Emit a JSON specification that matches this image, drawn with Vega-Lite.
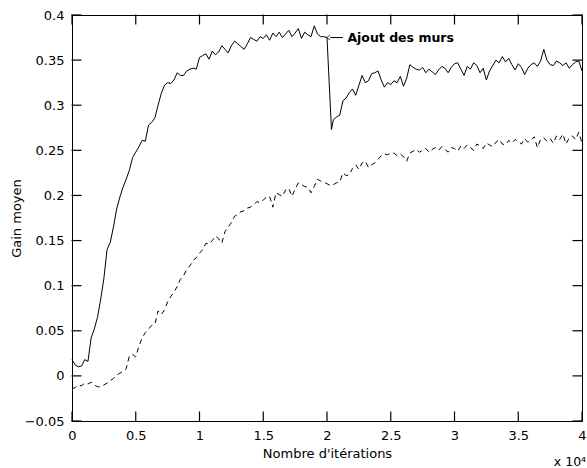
{
  "$schema": "https://vega.github.io/schema/vega-lite/v6.json",
  "width": 510,
  "height": 406,
  "autosize": {"type": "none"},
  "padding": {"left": 72, "top": 15, "right": 5, "bottom": 47},
  "background": "white",
  "title": {"text": "x 10⁴", "orient": "bottom", "anchor": "end", "font": "DejaVu Sans", "fontSize": 12.5, "fontWeight": "normal", "color": "black", "offset": -4, "dx": 0},
  "config": {
    "view": {"stroke": "black", "strokeWidth": 1},
    "axis": {"labelFont": "DejaVu Sans", "labelFontSize": 13, "labelColor": "black", "titleFont": "DejaVu Sans", "titleFontSize": 13, "titleFontWeight": "normal", "titleColor": "black", "ticks": false, "grid": false, "domain": false, "labelFlush": false, "labelOverlap": false}
  },
  "datasets": {
    "a": [
      {"it":0,"g":0.018},{"it":250,"g":0.012},{"it":500,"g":0.010},{"it":750,"g":0.011},{"it":1000,"g":0.018},{"it":1250,"g":0.016},{"it":1500,"g":0.042},{"it":1750,"g":0.052},{"it":2000,"g":0.065},{"it":2250,"g":0.085},
      {"it":2500,"g":0.108},{"it":2750,"g":0.140},{"it":3000,"g":0.148},{"it":3250,"g":0.165},{"it":3500,"g":0.185},{"it":3750,"g":0.198},{"it":4000,"g":0.209},{"it":4250,"g":0.218},{"it":4500,"g":0.228},{"it":4750,"g":0.242},
      {"it":5000,"g":0.248},{"it":5250,"g":0.254},{"it":5500,"g":0.261},{"it":5750,"g":0.260},{"it":6000,"g":0.278},{"it":6250,"g":0.281},{"it":6500,"g":0.286},{"it":6750,"g":0.300},{"it":7000,"g":0.313},{"it":7250,"g":0.322},
      {"it":7500,"g":0.325},{"it":7750,"g":0.324},{"it":8000,"g":0.328},{"it":8250,"g":0.336},{"it":8500,"g":0.333},{"it":8750,"g":0.333},{"it":9000,"g":0.338},{"it":9250,"g":0.340},{"it":9500,"g":0.341},{"it":9750,"g":0.340},
      {"it":10000,"g":0.353},{"it":10250,"g":0.355},{"it":10500,"g":0.357},{"it":10750,"g":0.351},{"it":11000,"g":0.360},{"it":11250,"g":0.356},{"it":11500,"g":0.359},{"it":11750,"g":0.366},{"it":12000,"g":0.362},{"it":12250,"g":0.358},
      {"it":12500,"g":0.366},{"it":12750,"g":0.371},{"it":13000,"g":0.368},{"it":13250,"g":0.365},{"it":13500,"g":0.362},{"it":13750,"g":0.368},{"it":14000,"g":0.375},{"it":14250,"g":0.373},{"it":14500,"g":0.371},{"it":14750,"g":0.376},
      {"it":15000,"g":0.374},{"it":15250,"g":0.378},{"it":15500,"g":0.372},{"it":15750,"g":0.380},{"it":16000,"g":0.376},{"it":16250,"g":0.381},{"it":16500,"g":0.375},{"it":16750,"g":0.379},{"it":17000,"g":0.383},{"it":17250,"g":0.376},
      {"it":17500,"g":0.380},{"it":17750,"g":0.385},{"it":18000,"g":0.374},{"it":18250,"g":0.381},{"it":18500,"g":0.378},{"it":18750,"g":0.376},{"it":19000,"g":0.388},{"it":19250,"g":0.379},{"it":19500,"g":0.376},{"it":19750,"g":0.376},
      {"it":20000,"g":0.375},{"it":20350,"g":0.273},{"it":20500,"g":0.284},{"it":20750,"g":0.287},{"it":21000,"g":0.289},{"it":21250,"g":0.305},{"it":21500,"g":0.308},{"it":21750,"g":0.314},{"it":22000,"g":0.318},{"it":22250,"g":0.311},
      {"it":22500,"g":0.322},{"it":22750,"g":0.333},{"it":23000,"g":0.325},{"it":23250,"g":0.327},{"it":23500,"g":0.335},{"it":23750,"g":0.336},{"it":24000,"g":0.338},{"it":24250,"g":0.328},{"it":24500,"g":0.320},{"it":24750,"g":0.325},
      {"it":25000,"g":0.323},{"it":25250,"g":0.327},{"it":25500,"g":0.325},{"it":25750,"g":0.332},{"it":26000,"g":0.321},{"it":26250,"g":0.330},{"it":26500,"g":0.345},{"it":26750,"g":0.342},{"it":27000,"g":0.340},{"it":27250,"g":0.339},
      {"it":27500,"g":0.342},{"it":27750,"g":0.336},{"it":28000,"g":0.340},{"it":28250,"g":0.337},{"it":28500,"g":0.334},{"it":28750,"g":0.339},{"it":29000,"g":0.343},{"it":29250,"g":0.341},{"it":29500,"g":0.336},{"it":29750,"g":0.342},
      {"it":30000,"g":0.346},{"it":30250,"g":0.347},{"it":30500,"g":0.340},{"it":30750,"g":0.333},{"it":31000,"g":0.343},{"it":31250,"g":0.340},{"it":31500,"g":0.347},{"it":31750,"g":0.344},{"it":32000,"g":0.336},{"it":32250,"g":0.341},
      {"it":32500,"g":0.328},{"it":32750,"g":0.338},{"it":33000,"g":0.344},{"it":33250,"g":0.350},{"it":33500,"g":0.347},{"it":33750,"g":0.354},{"it":34000,"g":0.348},{"it":34250,"g":0.352},{"it":34500,"g":0.345},{"it":34750,"g":0.339},
      {"it":35000,"g":0.346},{"it":35250,"g":0.342},{"it":35500,"g":0.334},{"it":35750,"g":0.341},{"it":36000,"g":0.345},{"it":36250,"g":0.347},{"it":36500,"g":0.343},{"it":36750,"g":0.349},{"it":37000,"g":0.362},{"it":37250,"g":0.350},
      {"it":37500,"g":0.345},{"it":37750,"g":0.344},{"it":38000,"g":0.349},{"it":38250,"g":0.347},{"it":38500,"g":0.344},{"it":38750,"g":0.347},{"it":39000,"g":0.341},{"it":39250,"g":0.345},{"it":39500,"g":0.348},{"it":39750,"g":0.349},
      {"it":40000,"g":0.338}
    ],
    "b": [
      {"it":0,"g":-0.014},{"it":250,"g":-0.013},{"it":500,"g":-0.010},{"it":750,"g":-0.011},{"it":1000,"g":-0.008},{"it":1250,"g":-0.009},{"it":1500,"g":-0.007},{"it":1750,"g":-0.010},{"it":2000,"g":-0.012},{"it":2250,"g":-0.012},
      {"it":2500,"g":-0.010},{"it":2750,"g":-0.008},{"it":3000,"g":-0.005},{"it":3250,"g":-0.003},{"it":3500,"g":0.001},{"it":3750,"g":0.003},{"it":4000,"g":0.005},{"it":4250,"g":0.008},{"it":4500,"g":0.022},{"it":4750,"g":0.024},
      {"it":5000,"g":0.021},{"it":5250,"g":0.033},{"it":5500,"g":0.042},{"it":5750,"g":0.048},{"it":6000,"g":0.052},{"it":6250,"g":0.056},{"it":6500,"g":0.057},{"it":6750,"g":0.072},{"it":7000,"g":0.068},{"it":7250,"g":0.073},
      {"it":7500,"g":0.082},{"it":7750,"g":0.088},{"it":8000,"g":0.093},{"it":8250,"g":0.099},{"it":8500,"g":0.107},{"it":8750,"g":0.111},{"it":9000,"g":0.118},{"it":9250,"g":0.122},{"it":9500,"g":0.128},{"it":9750,"g":0.131},
      {"it":10000,"g":0.136},{"it":10250,"g":0.140},{"it":10500,"g":0.147},{"it":10750,"g":0.146},{"it":11000,"g":0.150},{"it":11250,"g":0.155},{"it":11500,"g":0.152},{"it":11750,"g":0.147},{"it":12000,"g":0.160},{"it":12250,"g":0.165},
      {"it":12500,"g":0.170},{"it":12750,"g":0.177},{"it":13000,"g":0.179},{"it":13250,"g":0.182},{"it":13500,"g":0.183},{"it":13750,"g":0.186},{"it":14000,"g":0.187},{"it":14250,"g":0.190},{"it":14500,"g":0.193},{"it":14750,"g":0.192},
      {"it":15000,"g":0.195},{"it":15250,"g":0.198},{"it":15500,"g":0.199},{"it":15750,"g":0.187},{"it":16000,"g":0.203},{"it":16250,"g":0.201},{"it":16500,"g":0.199},{"it":16750,"g":0.206},{"it":17000,"g":0.208},{"it":17250,"g":0.199},
      {"it":17500,"g":0.207},{"it":17750,"g":0.214},{"it":18000,"g":0.212},{"it":18250,"g":0.210},{"it":18500,"g":0.209},{"it":18750,"g":0.203},{"it":19000,"g":0.210},{"it":19250,"g":0.218},{"it":19500,"g":0.216},{"it":19750,"g":0.215},
      {"it":20000,"g":0.213},{"it":20250,"g":0.211},{"it":20500,"g":0.212},{"it":20750,"g":0.214},{"it":21000,"g":0.215},{"it":21250,"g":0.225},{"it":21500,"g":0.222},{"it":21750,"g":0.223},{"it":22000,"g":0.230},{"it":22250,"g":0.234},
      {"it":22500,"g":0.229},{"it":22750,"g":0.236},{"it":23000,"g":0.238},{"it":23250,"g":0.231},{"it":23500,"g":0.234},{"it":23750,"g":0.236},{"it":24000,"g":0.240},{"it":24250,"g":0.244},{"it":24500,"g":0.246},{"it":24750,"g":0.245},
      {"it":25000,"g":0.247},{"it":25250,"g":0.247},{"it":25500,"g":0.244},{"it":25750,"g":0.246},{"it":26000,"g":0.243},{"it":26250,"g":0.238},{"it":26500,"g":0.247},{"it":26750,"g":0.249},{"it":27000,"g":0.251},{"it":27250,"g":0.248},
      {"it":27500,"g":0.250},{"it":27750,"g":0.252},{"it":28000,"g":0.248},{"it":28250,"g":0.251},{"it":28500,"g":0.253},{"it":28750,"g":0.250},{"it":29000,"g":0.254},{"it":29250,"g":0.251},{"it":29500,"g":0.248},{"it":29750,"g":0.253},
      {"it":30000,"g":0.252},{"it":30250,"g":0.249},{"it":30500,"g":0.255},{"it":30750,"g":0.252},{"it":31000,"g":0.256},{"it":31250,"g":0.253},{"it":31500,"g":0.250},{"it":31750,"g":0.257},{"it":32000,"g":0.255},{"it":32250,"g":0.252},
      {"it":32500,"g":0.258},{"it":32750,"g":0.256},{"it":33000,"g":0.254},{"it":33250,"g":0.259},{"it":33500,"g":0.262},{"it":33750,"g":0.257},{"it":34000,"g":0.256},{"it":34250,"g":0.261},{"it":34500,"g":0.258},{"it":34750,"g":0.262},
      {"it":35000,"g":0.260},{"it":35250,"g":0.257},{"it":35500,"g":0.263},{"it":35750,"g":0.259},{"it":36000,"g":0.261},{"it":36250,"g":0.265},{"it":36500,"g":0.253},{"it":36750,"g":0.262},{"it":37000,"g":0.264},{"it":37250,"g":0.260},
      {"it":37500,"g":0.263},{"it":37750,"g":0.258},{"it":38000,"g":0.266},{"it":38250,"g":0.262},{"it":38500,"g":0.268},{"it":38750,"g":0.257},{"it":39000,"g":0.264},{"it":39250,"g":0.266},{"it":39500,"g":0.262},{"it":39750,"g":0.270},
      {"it":40000,"g":0.258}
    ],
    "xticks": [{"v":0},{"v":5000},{"v":10000},{"v":15000},{"v":20000},{"v":25000},{"v":30000},{"v":35000},{"v":40000}],
    "yticks": [{"v":-0.05},{"v":0},{"v":0.05},{"v":0.1},{"v":0.15},{"v":0.2},{"v":0.25},{"v":0.3},{"v":0.35},{"v":0.4}],
    "note": [{"x1":20250,"x2":21250,"xt":21600,"y":0.375,"label":"Ajout des murs"}]
  },
  "layer": [
    {
      "data": {"name": "a"},
      "mark": {"type": "line", "color": "black", "strokeWidth": 1},
      "encoding": {
        "x": {"field": "it", "type": "quantitative", "scale": {"domain": [0, 40000], "nice": false, "zero": false},
              "axis": {"orient": "bottom", "values": [0,5000,10000,15000,20000,25000,30000,35000,40000], "labelExpr": "datum.value / 10000", "labelPadding": 8, "title": "Nombre d'itérations", "titlePadding": 5}},
        "y": {"field": "g", "type": "quantitative", "scale": {"domain": [-0.05, 0.4], "nice": false, "zero": false},
              "axis": {"orient": "left", "values": [-0.05,0,0.05,0.1,0.15,0.2,0.25,0.3,0.35,0.4], "format": "~g", "labelPadding": 8, "title": "Gain moyen", "titlePadding": 1}}
      }
    },
    {
      "data": {"name": "b"},
      "mark": {"type": "line", "color": "black", "strokeWidth": 1, "strokeDash": [5, 4]},
      "encoding": {
        "x": {"field": "it", "type": "quantitative"},
        "y": {"field": "g", "type": "quantitative"}
      }
    },
    {
      "data": {"name": "xticks"},
      "mark": {"type": "tick", "color": "black", "thickness": 1.2, "size": 10, "orient": "vertical", "opacity": 1},
      "encoding": {
        "x": {"field": "v", "type": "quantitative"},
        "y": {"datum": -0.045}
      }
    },
    {
      "data": {"name": "xticks"},
      "mark": {"type": "tick", "color": "black", "thickness": 1.2, "size": 10, "orient": "vertical", "opacity": 1},
      "encoding": {
        "x": {"field": "v", "type": "quantitative"},
        "y": {"datum": 0.395}
      }
    },
    {
      "data": {"name": "yticks"},
      "mark": {"type": "tick", "color": "black", "thickness": 1.2, "size": 10, "orient": "horizontal", "opacity": 1},
      "encoding": {
        "y": {"field": "v", "type": "quantitative"},
        "x": {"datum": 353}
      }
    },
    {
      "data": {"name": "yticks"},
      "mark": {"type": "tick", "color": "black", "thickness": 1.2, "size": 10, "orient": "horizontal", "opacity": 1},
      "encoding": {
        "y": {"field": "v", "type": "quantitative"},
        "x": {"datum": 39647}
      }
    },
    {
      "data": {"name": "note"},
      "mark": {"type": "rule", "color": "black", "strokeWidth": 1},
      "encoding": {
        "x": {"field": "x1", "type": "quantitative"},
        "x2": {"field": "x2"},
        "y": {"field": "y", "type": "quantitative"}
      }
    },
    {
      "data": {"name": "note"},
      "mark": {"type": "point", "shape": "M-1,0L0,-0.6M-1,0L0,0.6", "stroke": "black", "strokeWidth": 1, "size": 60, "filled": false},
      "encoding": {
        "x": {"field": "x1", "type": "quantitative"},
        "y": {"field": "y", "type": "quantitative"}
      }
    },
    {
      "data": {"name": "note"},
      "mark": {"type": "text", "align": "left", "baseline": "middle", "font": "DejaVu Sans", "fontSize": 12.5, "fontWeight": "bold", "color": "black"},
      "encoding": {
        "x": {"field": "xt", "type": "quantitative"},
        "y": {"field": "y", "type": "quantitative"},
        "text": {"field": "label"}
      }
    }
  ]
}
